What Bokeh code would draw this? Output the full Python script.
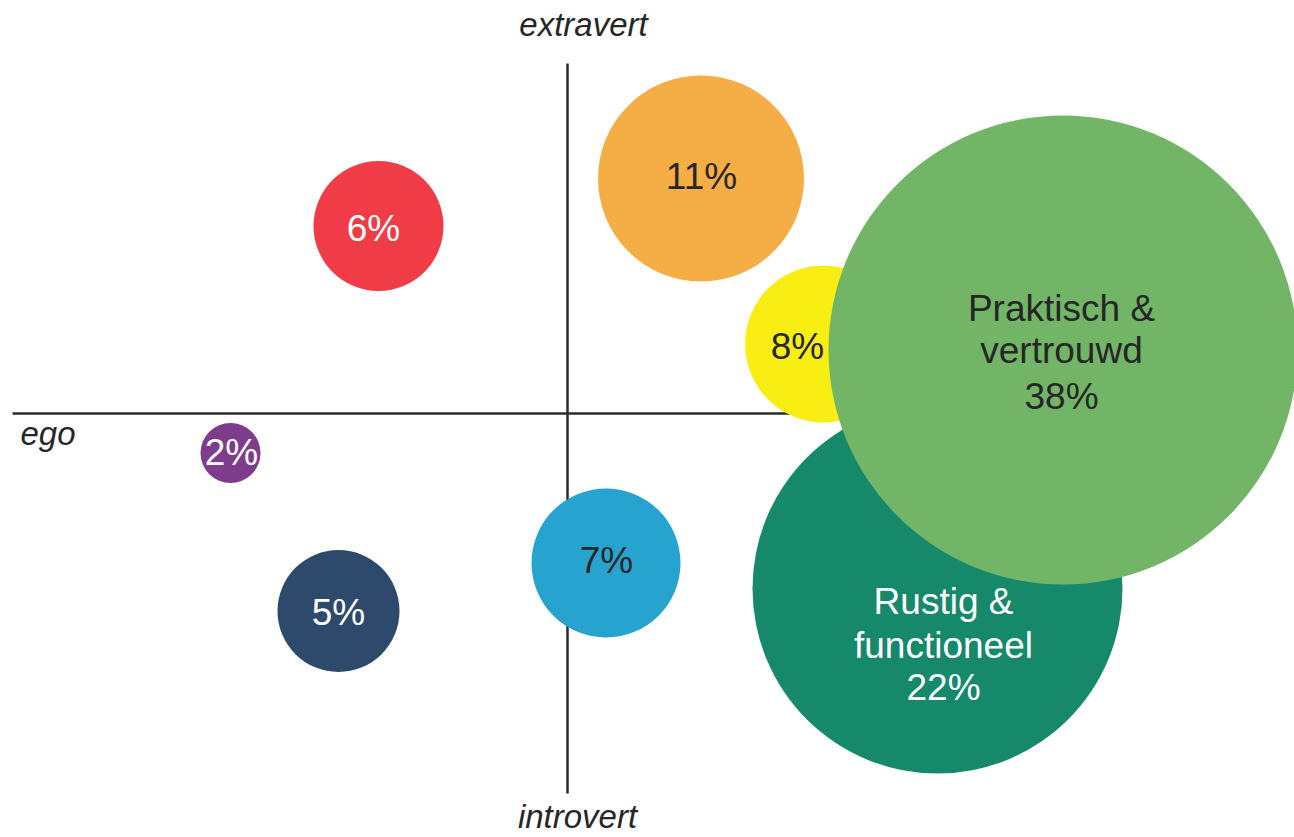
from bokeh.plotting import figure
from bokeh.models import Range1d, ColumnDataSource
from bokeh.embed import file_html
from bokeh.resources import INLINE
from bokeh.core.properties import value

# ---- data (chart units: 0,0 = crossing of the axes; x: ego -> right, y: introvert -> extravert)
bubble_pct = [6, 11, 2, 5, 7, 22, 8, 38]
bubble_x = [-189, 133.5, -337, -229, 38.5, 370, 256, 495.5]
bubble_y = [187.5, 235, -39.5, -197.5, -149.5, -175, 69.5, 63.5]
bubble_r = [65, 103, 30, 61, 74.5, 185, 78.5, 234.5]
bubble_color = ["#EF3C47", "#F5AD45", "#7D3D8C", "#2D4A6D", "#27A3D0", "#15896A", "#F9EE14", "#72B567"]

label_text = ["6%", "11%", "2%", "5%", "7%",
              "Rustig &", "functioneel", "22%",
              "8%",
              "Praktisch &", "vertrouwd", "38%"]
label_x = [-194, 134, -336, -229, 39, 376, 376, 376, 230, 494, 494, 494]
label_y = [185, 237, -39, -199, -147, -188, -232, -274, 67, 105, 63, 17]
label_color = ["#FFFFFF", "#262626", "#FFFFFF", "#FFFFFF", "#262626",
               "#FFFFFF", "#FFFFFF", "#FFFFFF",
               "#262626",
               "#262626", "#262626", "#262626"]

axis_names = ["extravert", "introvert", "ego"]
axis_x = [16, 10, -547]
axis_y = [389, -403, -20]
axis_align = ["center", "center", "left"]

v_axis_y = [350, -380]
h_axis_x = [-555, 270]

p = figure(width=1294, height=837, x_range=Range1d(-567, 727), y_range=Range1d(-424, 413),
           output_backend="svg", toolbar_location=None, min_border=0)
p.axis.visible = False
p.grid.visible = False
p.outline_line_color = None
p.background_fill_color = "white"
p.border_fill_color = "white"

# axes lines
p.line(x=[0, 0], y=v_axis_y, line_color="#2B2B2B", line_width=2.5)
p.line(x=h_axis_x, y=[0, 0], line_color="#2B2B2B", line_width=2.5)

src = ColumnDataSource(dict(x=bubble_x, y=bubble_y, r=bubble_r, c=bubble_color, pct=bubble_pct))
p.circle(x="x", y="y", radius="r", fill_color="c", line_color=None, source=src)

lsrc = ColumnDataSource(dict(x=label_x, y=label_y, t=label_text, c=label_color))
p.text(x="x", y="y", text="t", text_color="c", source=lsrc, text_align="center",
       text_baseline="middle", text_font=value("Liberation Sans"), text_font_size="37px")

asrc = ColumnDataSource(dict(x=axis_x, y=axis_y, t=axis_names, a=axis_align))
p.text(x="x", y="y", text="t", text_align="a", source=asrc, text_color="#262626",
       text_baseline="middle", text_font=value("Liberation Sans"), text_font_size="33px",
       text_font_style="italic")

open("out.html", "w").write(file_html(p, INLINE))
